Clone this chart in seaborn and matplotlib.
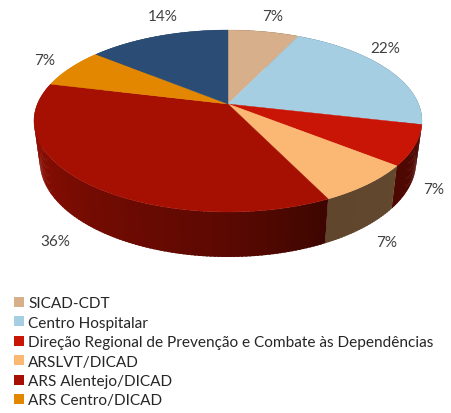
import numpy as np
import matplotlib
matplotlib.use("Agg")
import matplotlib.pyplot as plt
from matplotlib.patches import Patch
import seaborn as sns

categories = ["SICAD-CDT", "Centro Hospitalar",
              "Direção Regional de Prevenção e Combate às Dependências",
              "ARSLVT/DICAD", "ARS Alentejo/DICAD", "ARS Centro/DICAD", "Outros"]
values = [7.1, 21.5, 7.1, 7.1, 36.0, 7.1, 14.1]
hex_colors = ["#D7B08B", "#A6CEE3", "#C81505", "#FBB874", "#A51003", "#E48700", "#2B4C74"]
label_texts = ["7%", "22%", "7%", "7%", "36%", "7%", "14%"]
# layout only
label_xy = [(273, 17), (385, 49), (434, 190), (387, 243), (55, 242), (45, 61), (163, 17)]
legend_count = 6

sns.set_theme(style="white")
plt.rcParams["font.family"] = ["Lato", "DejaVu Sans"]
palette = sns.color_palette(hex_colors)

CX, CY = 228, 105
A, B, K = 190.6, 87.8, 0.187


def project(theta, sx=1.0, sy=1.0, dy=0.0):
    """Clockwise angle from 12 o'clock (degrees) to tilted disc position."""
    t = np.radians(theta)
    u, v = np.sin(t), np.cos(t)
    w = 1 + K * v
    return CX + sx * A * u / w, CY + dy - sy * B * v / w


def shade(theta):
    return np.interp(theta, [100, 155, 180, 230, 285], [0.40, 0.38, 0.55, 0.75, 0.95])


fig = plt.figure(figsize=(4.52, 4.14), dpi=100)
ax = fig.add_axes([0, 0, 1, 1])
ax.set_xlim(0, 452)
ax.set_ylim(414, 0)
ax.axis("off")

total = sum(values)
edges = np.cumsum([0] + values) / total * 360

# side wall: overlapping facets so no seams show between them
for i, col in enumerate(palette):
    start, stop = edges[i], edges[i + 1]
    steps = np.arange(start, stop, 1.0).tolist() + [stop]
    for a0, a1 in zip(steps[:-1], steps[1:]):
        arc = np.array([a0, min(a1 + 0.6, stop)])
        xt, yt = project(arc)
        xb, yb = project(arc, 0.97, 1.05, 39.6)
        c = np.clip(np.array(col) * shade((a0 + a1) / 2), 0, 1)
        ax.fill([xt[0], xt[1], xb[1], xb[0]], [yt[0], yt[1], yb[1], yb[0]],
                color=c, lw=0, zorder=1)

# top face
for i, col in enumerate(palette):
    arc = np.linspace(edges[i], edges[i + 1], 80)
    x, y = project(arc)
    ax.fill(np.r_[CX, x], np.r_[CY, y], color=col, lw=0.3, zorder=2)

for txt, (x, y) in zip(label_texts, label_xy):
    ax.text(x, y, txt, ha="center", va="center", fontsize=11, color="#404040", zorder=3)

handles = [Patch(facecolor=c, edgecolor="none") for c in palette[:legend_count]]
ax.legend(handles, categories[:legend_count], loc="upper left",
          bbox_to_anchor=(14 / 452, 1 - 297.5 / 414), borderaxespad=0, borderpad=0,
          frameon=False, fontsize=11.1, labelcolor="#262626",
          handlelength=0.62, handleheight=0.62, handletextpad=0.3, labelspacing=0.35)

fig.savefig("out.png", dpi=100)
